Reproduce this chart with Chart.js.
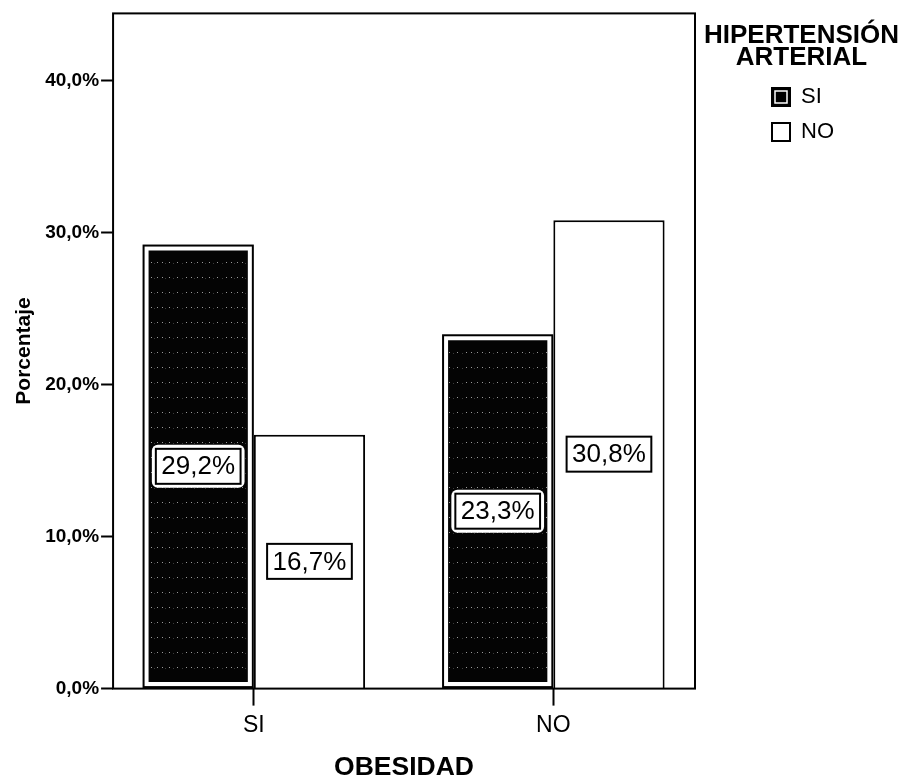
<!DOCTYPE html>
<html>
<head>
<meta charset="utf-8">
<script src="https://cdn.jsdelivr.net/npm/chart.js@4.4.1/dist/chart.umd.min.js"></script>
<style>
  html,body{margin:0;padding:0;background:#fff;}
  canvas{display:block;}
</style>
</head>
<body>
<canvas id="chart" width="916" height="781"></canvas>
<script>
// ---- data ----
const categories = ['SI', 'NO'];              // OBESIDAD
const seriesNames = ['SI', 'NO'];             // HIPERTENSIÓN ARTERIAL
const htaSi = [29.2, 23.3];
const htaNo = [16.7, 30.8];
const yTicks = [0, 10, 20, 30, 40];
const yMax = 44.4;

const F = "'Liberation Sans', Arial, sans-serif";
const pct = v => v.toFixed(1).replace('.', ',') + '%';

// dark speckled fill like the scanned SPSS bars
function speckle(){
  const c = document.createElement('canvas'); c.width = 40; c.height = 15;
  const g = c.getContext('2d');
  g.fillStyle = '#040404'; g.fillRect(0, 0, 40, 15);
  g.fillStyle = '#9a9a9a';
  [2,9,17,26,31,37].forEach(x => g.fillRect(x, 7, 1, 1));
  g.fillStyle = '#3a3a3a';
  [5,13,22,34].forEach(x => g.fillRect(x, 8, 1, 1));
  return g.createPattern(c, 'repeat');
}

// frame, outer stroke of dark bars, value boxes
const decor = {
  id: 'decor',
  beforeDraw(chart){
    // let the two-line legend title spill past the legend box
    const lg = chart.legend;
    if (lg && !lg._noclip) {
      lg.draw = function(){ if (this.options.display) this._draw(); };
      lg._noclip = true;
    }
  },
  afterDatasetsDraw(chart){
    const ctx = chart.ctx, a = chart.chartArea;
    ctx.save();
    ctx.strokeStyle = '#000';
    ctx.lineWidth = 2;
    ctx.strokeRect(a.left, a.top, a.right - a.left, a.bottom - a.top);

    chart.getDatasetMeta(0).data.forEach(el => {
      const p = el.getProps(['x', 'y', 'base', 'width'], true);
      ctx.lineWidth = 2;
      ctx.strokeRect(p.x - p.width/2 + 1, p.y + 1, p.width - 2, p.base - p.y - 2);
    });

    ctx.font = '26px ' + F;
    ctx.textAlign = 'center';
    ctx.textBaseline = 'middle';
    chart.data.datasets.forEach((ds, di) => {
      chart.getDatasetMeta(di).data.forEach((el, i) => {
        const p = el.getProps(['x', 'y', 'base'], true);
        const txt = pct(ds.data[i].y);
        const w = ctx.measureText(txt).width + 11, h = 35;
        const cx = p.x, cy = (p.y + p.base) / 2;
        if (di === 0) {
          ctx.fillStyle = '#fff';
          ctx.beginPath();
          ctx.roundRect(cx - w/2 - 4, cy - h/2 - 4, w + 8, h + 8, 6);
          ctx.fill();
        }
        ctx.fillStyle = '#fff';
        ctx.fillRect(cx - w/2, cy - h/2, w, h);
        ctx.lineWidth = 2;
        ctx.strokeRect(cx - w/2, cy - h/2, w, h);
        ctx.fillStyle = '#000';
        ctx.fillText(txt, cx, cy + 1);
      });
    });
    ctx.restore();
  },
  afterDraw(chart){
    // inner white ring of the dark legend swatch
    const lg = chart.legend;
    if (!lg || !lg.legendHitBoxes || !lg.legendHitBoxes[0]) return;
    const hb = lg.legendHitBoxes[0], bw = lg.options.labels.boxWidth, bh = lg.options.labels.boxHeight;
    const top = hb.top + (hb.height - bh) / 2;
    const ctx = chart.ctx;
    ctx.save();
    ctx.strokeStyle = '#fff';
    ctx.lineWidth = 1.5;
    ctx.strokeRect(hb.left + 3, top + 3, bw - 6, bh - 6);
    ctx.restore();
  }
};

new Chart(document.getElementById('chart'), {
  type: 'bar',
  data: {
    datasets: [
      { label: seriesNames[0], data: categories.map((c, i) => ({x: i, y: htaSi[i]})),
        backgroundColor: speckle(), borderColor: '#fff', borderWidth: 6, borderSkipped: false },
      { label: seriesNames[1], data: categories.map((c, i) => ({x: i, y: htaNo[i]})),
        backgroundColor: '#fff', borderColor: '#000', borderWidth: 2 }
    ]
  },
  options: {
    responsive: false,
    animation: false,
    categoryPercentage: 0.743,
    barPercentage: 1,
    layout: { padding: { top: 12, left: 0, right: 72, bottom: 0 } },
    plugins: {
      tooltip: { enabled: false },
      legend: {
        position: 'right',
        align: 'start',
        title: {
          display: true, text: ['HIPERTENSIÓN', 'ARTERIAL'], position: 'center', color: '#000',
          font: { family: F, size: 26, weight: 'bold', lineHeight: '22px' },
          padding: { top: 11, bottom: 28 }
        },
        labels: {
          boxWidth: 18, boxHeight: 18, padding: 13, color: '#000',
          font: { family: F, size: 22 },
          generateLabels: chart => chart.data.datasets.map((ds, i) => ({
            text: ds.label, fillStyle: i === 0 ? '#000' : '#fff', strokeStyle: '#000',
            lineWidth: 2, datasetIndex: i, hidden: false, fontColor: '#000'
          }))
        }
      }
    },
    scales: {
      x: {
        type: 'linear', min: -0.47, max: 1.473, offset: false,
        afterBuildTicks: s => { s.ticks = categories.map((c, i) => ({ value: i })); },
        ticks: { callback: v => categories[v], color: '#000', font: { family: F, size: 23 }, padding: 6 },
        grid: { offset: false, drawOnChartArea: false, tickLength: 17, tickWidth: 2, tickColor: '#000' },
        border: { display: false },
        title: { display: true, text: 'OBESIDAD', color: '#000',
                 font: { family: F, size: 26.5, weight: 'bold', lineHeight: 1 }, padding: { top: 9.3, bottom: 0 } }
      },
      y: {
        min: 0, max: yMax,
        afterBuildTicks: s => { s.ticks = yTicks.map(v => ({ value: v })); },
        ticks: { callback: v => pct(v), color: '#000', font: { family: F, size: 19, weight: 'bold' }, padding: 2 },
        grid: { drawOnChartArea: false, tickLength: 12, tickWidth: 2, tickColor: '#000' },
        border: { display: false },
        title: { display: true, text: 'Porcentaje', color: '#000',
                 font: { family: F, size: 21, weight: 'bold' }, padding: { top: 12, bottom: 6 } }
      },
      gap: {
        position: 'right', display: true,
        grid: { display: false }, border: { display: false }, ticks: { display: false },
        afterFit: s => { s.width = 64; }
      }
    }
  },
  plugins: [decor]
});
</script>
</body>
</html>
